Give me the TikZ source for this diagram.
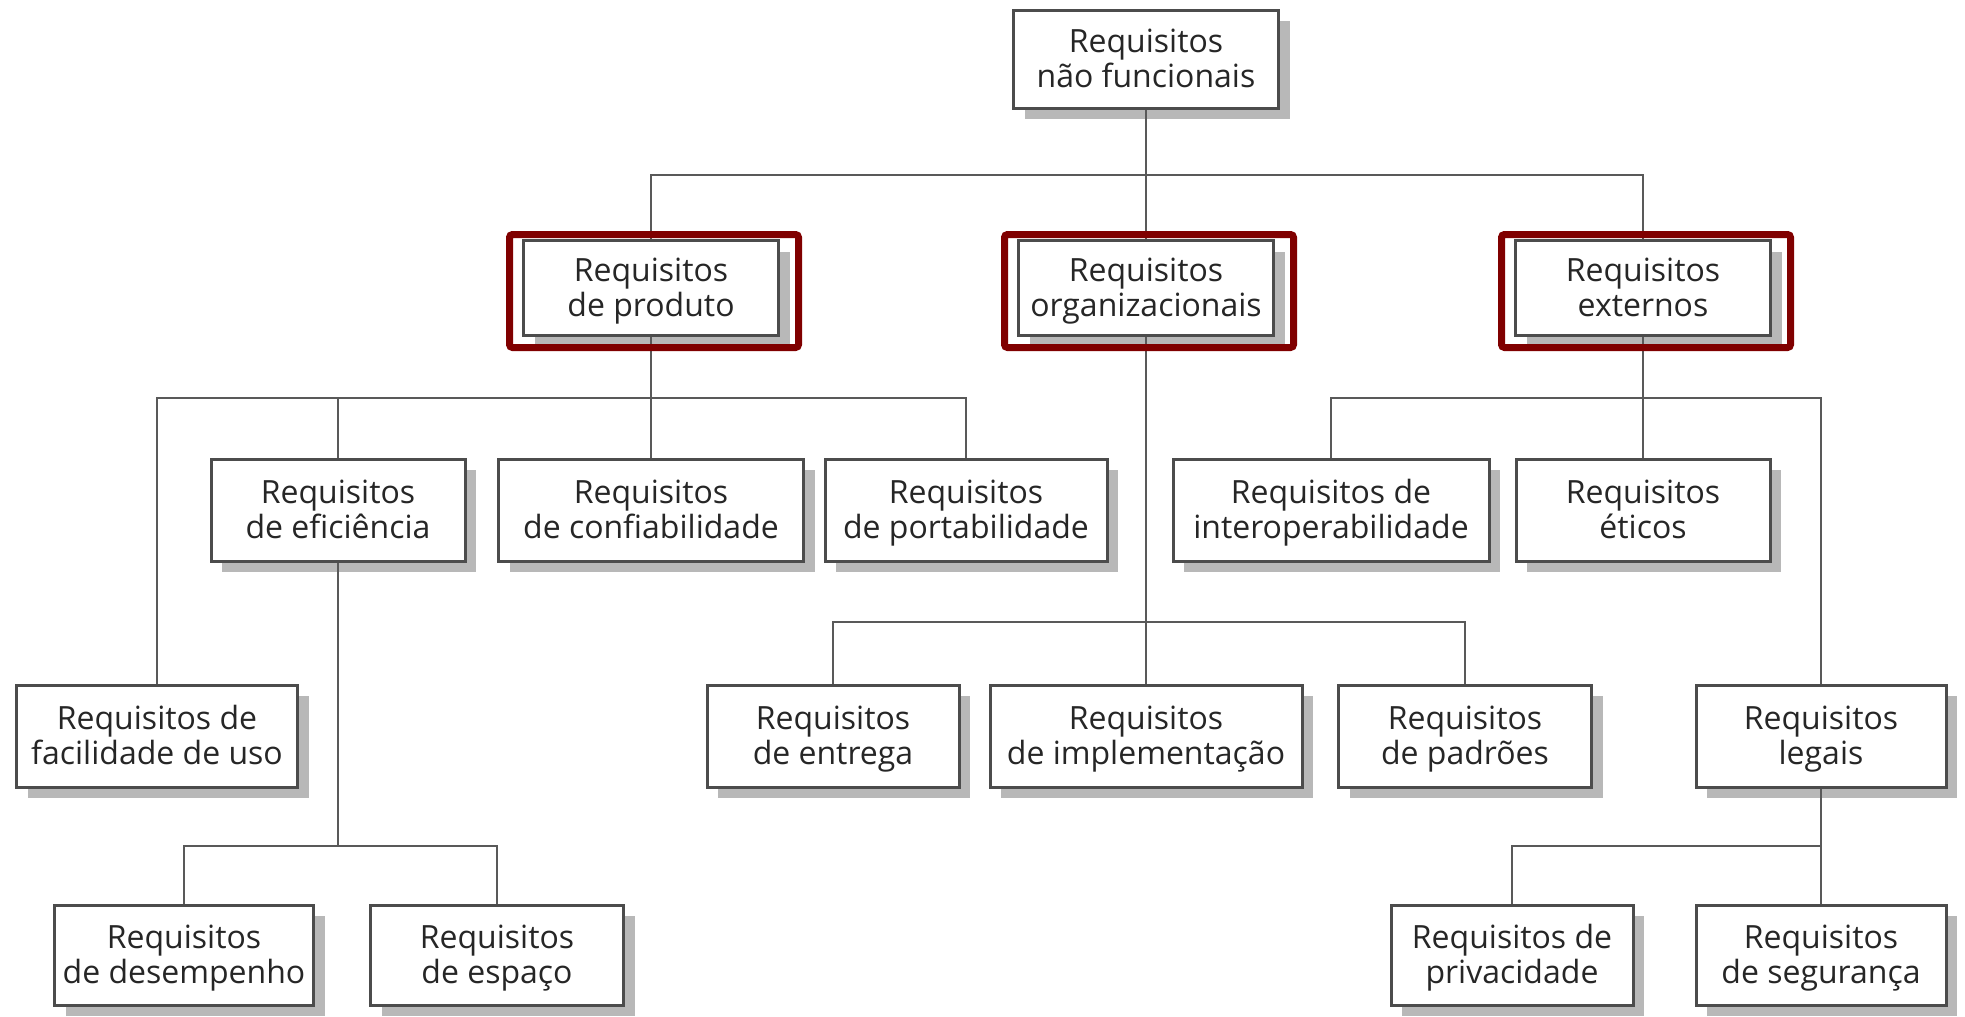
\documentclass[tikz,border=0pt]{standalone}
\usepackage{fontspec}
\setmainfont{Open Sans}
\usetikzlibrary{shadows}
\definecolor{darkred}{RGB}{128,0,0}

\begin{document}
\begin{tikzpicture}[x=0.5pt,y=-0.5pt,
  req/.style={rectangle,draw=black!70,line width=1.5pt,fill=white,align=center,
    inner sep=0pt,minimum height=51pt,font=\fontsize{16}{17.5}\selectfont,
    text=black!85,text height=31pt,text depth=2.5pt,
    drop shadow={shadow xshift=5.5pt,shadow yshift=-5.5pt,fill=black!28,opacity=1}},
  link/.style={draw=black!65,line width=1.4pt},
  redframe/.style={draw=darkred,line width=3.5pt,rounded corners=1.5pt}]

  \useasboundingbox (0,0) rectangle (1965,1017);

  % levels of the tree
  \coordinate (lvlA) at (0,175);
  \coordinate (lvlB) at (0,398);
  \coordinate (lvlC) at (0,622);
  \coordinate (lvlD) at (0,846);

  \node[req,minimum width=132.5pt,minimum height=49pt] (top) at (1146,59) {Requisitos\\não funcionais};

  \node[req,minimum width=127.5pt,minimum height=47.5pt] (prod) at (651,288) {Requisitos\\de produto};
  \node[req,minimum width=127.5pt,minimum height=47.5pt] (org) at (1146,288) {Requisitos\\organizacionais};
  \node[req,minimum width=127.5pt,minimum height=47.5pt] (ext) at (1643,288) {Requisitos\\externos};

  \node[req,minimum width=127pt] (eff) at (338,510) {Requisitos\\de eficiência};
  \node[req,minimum width=152.5pt] (conf) at (651,510) {Requisitos\\de confiabilidade};
  \node[req,minimum width=141pt] (port) at (966,510) {Requisitos\\de portabilidade};
  \node[req,minimum width=158pt] (interop) at (1331,510) {Requisitos de\\interoperabilidade};
  \node[req,minimum width=127pt] (etic) at (1643,510) {Requisitos\\éticos};

  \node[req,minimum width=140.5pt] (faci) at (157,736) {Requisitos de\\facilidade de uso};
  \node[req,minimum width=126pt] (entr) at (833,736) {Requisitos\\de entrega};
  \node[req,minimum width=156pt] (impl) at (1146,736) {Requisitos\\de implementação};
  \node[req,minimum width=126.5pt] (padr) at (1465,736) {Requisitos\\de padrões};
  \node[req,minimum width=125pt] (legal) at (1821,736) {Requisitos\\legais};

  \node[req,minimum width=129.5pt,minimum height=50pt] (desemp) at (184,955) {Requisitos\\de desempenho};
  \node[req,minimum width=126.5pt,minimum height=50pt] (espa) at (497,955) {Requisitos\\de espaço};
  \node[req,minimum width=121pt,minimum height=50pt] (priv) at (1512,955) {Requisitos de\\privacidade};
  \node[req,minimum width=125pt,minimum height=50pt] (segu) at (1821,955) {Requisitos\\de segurança};

  % connectors
  \draw[link] (top.south) -- (org.north);
  \draw[link] (prod.north) |- (ext.north |- lvlA) -- (ext.north);

  \draw[link] (prod.south) -- (conf.north);
  \draw[link] (faci.north) |- (port.north |- lvlB) -- (port.north);
  \draw[link] (eff.north) -- (eff.north |- lvlB);
  \draw[link] (eff.south) -- (eff.south |- lvlD);
  \draw[link] (desemp.north) |- (espa.north |- lvlD) -- (espa.north);

  \draw[link] (org.south) -- (impl.north);
  \draw[link] (entr.north) |- (padr.north |- lvlC) -- (padr.north);

  \draw[link] (ext.south) -- (etic.north);
  \draw[link] (interop.north) |- (legal.north |- lvlB) -- (legal.north);
  \draw[link] (legal.south) -- (segu.north);
  \draw[link] (priv.north) |- (segu.north |- lvlD);

  % highlighted groups
  \draw[redframe] ([shift={(-12.5,-4.5)}]prod.north west) rectangle ([shift={(18.5,10.5)}]prod.south east);
  \draw[redframe] ([shift={(-12.5,-4.5)}]org.north west) rectangle ([shift={(18.5,10.5)}]org.south east);
  \draw[redframe] ([shift={(-12.5,-4.5)}]ext.north west) rectangle ([shift={(18.5,10.5)}]ext.south east);

\end{tikzpicture}
\end{document}
